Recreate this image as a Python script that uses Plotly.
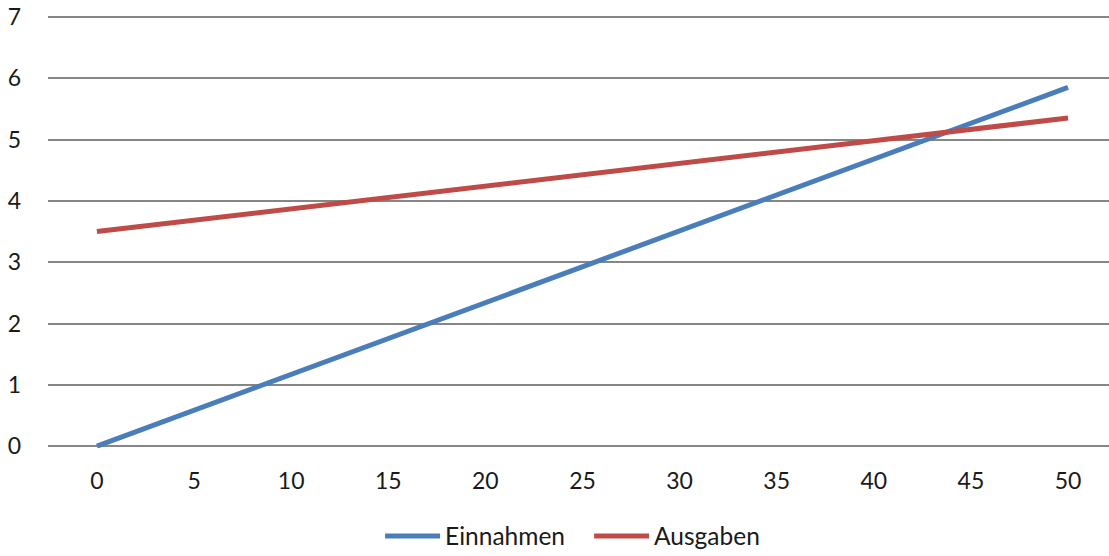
import plotly.graph_objects as go

# Werte je Stützstelle
x_values = [0, 5, 10, 15, 20, 25, 30, 35, 40, 45, 50]
einnahmen = [0, 0.585, 1.17, 1.755, 2.34, 2.925, 3.51, 4.095, 4.68, 5.265, 5.85]
ausgaben = [3.5, 3.685, 3.87, 4.055, 4.24, 4.425, 4.61, 4.795, 4.98, 5.165, 5.35]
x_ticks = [0, 5, 10, 15, 20, 25, 30, 35, 40, 45, 50]
y_ticks = [0, 1, 2, 3, 4, 5, 6, 7]

FONT = "Lato, 'Open Sans', sans-serif"

fig = go.Figure()
fig.add_trace(go.Scatter(x=x_values, y=einnahmen, mode="lines", name="Einnahmen",
                         line=dict(color="#4a7ebb", width=5)))
fig.add_trace(go.Scatter(x=x_values, y=ausgaben, mode="lines", name="Ausgaben",
                         line=dict(color="#be4b48", width=5)))

fig.update_layout(
    width=1109, height=556,
    margin=dict(l=48, r=0, t=15, b=108),
    paper_bgcolor="white", plot_bgcolor="white",
    font=dict(family=FONT, size=23, color="#1a1a1a"),
    showlegend=True,
    legend=dict(orientation="h", x=0.313, xanchor="left",
                yref="container", y=0.036, yanchor="middle",
                itemwidth=55, entrywidth=139, font=dict(size=24.5), traceorder="normal"),
    xaxis=dict(range=[-2.52, 52.11], tickvals=x_ticks, showgrid=False, zeroline=False,
               showline=False, ticks="", ticklabelstandoff=17),
    yaxis=dict(range=[-0.03, 7.03], tickvals=y_ticks, showgrid=True, gridcolor="#868686",
               gridwidth=2, zeroline=False, showline=False, ticks="",
               ticklabelstandoff=26),
)

fig.write_html("out.html")
